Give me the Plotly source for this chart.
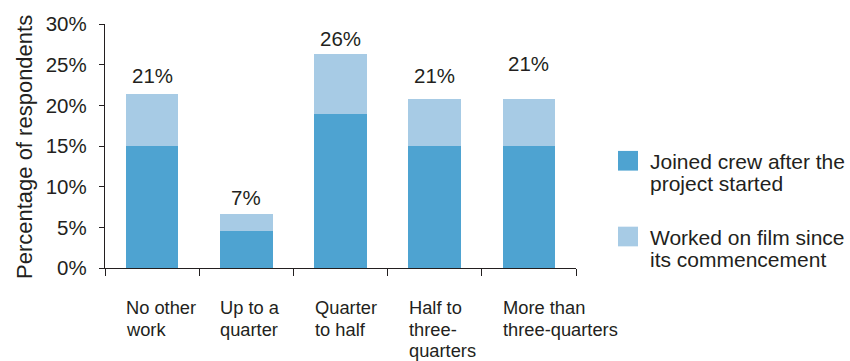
import plotly.graph_objects as go

# Data: share of respondents by how much other work they had during the film
categories = ["No other<br>work", "Up to a<br>quarter", "Quarter<br>to half",
              "Half to<br>three-<br>quarters", "More than<br>three-quarters"]
joined_after = [15.0, 4.5, 18.9, 15.0, 15.0]     # joined crew after the project started
since_start = [6.4, 2.1, 7.4, 5.8, 5.8]          # worked on film since its commencement
series_names = ["Joined crew after the<br>project started",
                "Worked on film since<br>its commencement"]
y_ticks = [0, 5, 10, 15, 20, 25, 30]

totals = [a + b for a, b in zip(joined_after, since_start)]
total_labels = [f"{round(t)}%" for t in totals]

# Styling
DARK = "#4ea3d1"
LIGHT = "#a7cbe5"
INK = "#231f20"
FONT = "Liberation Sans, Arial, sans-serif"
W, H = 850, 361
ML, MR, MT, MB = 105, 274, 20, 93
label_lift = [5, 3, 2, 10, 22]   # extra lift of the total labels above each bar

def px_x(px):
    return (px - ML) / (W - ML - MR)

def px_y(py):
    return (H - MB - py) / (H - MT - MB)

fig = go.Figure()
fig.add_trace(go.Bar(x=categories, y=joined_after, name=series_names[0],
                     marker=dict(color=DARK, line=dict(width=0))))
fig.add_trace(go.Bar(x=categories, y=since_start, name=series_names[1],
                     marker=dict(color=LIGHT, line=dict(width=0))))

annotations = []

# Totals above the stacks
for cat, tot, lab, lift in zip(categories, totals, total_labels, label_lift):
    annotations.append(dict(x=cat, y=tot, xref="x", yref="y", text=lab,
                            showarrow=False, xanchor="center", yanchor="bottom",
                            yshift=lift, font=dict(family=FONT, size=20.5, color=INK)))

# Category labels, left-aligned to the bar edge, one line at a time
CAT_LINE = 21.5
for cat in categories:
    for i, line in enumerate(cat.split("<br>")):
        annotations.append(dict(x=cat, y=0, xref="x", yref="y", text=line,
                                showarrow=False, xanchor="left", yanchor="top",
                                xshift=-28, yshift=-27 - i * CAT_LINE,
                                font=dict(family=FONT, size=18.3, color=INK)))

# Y axis title
annotations.append(dict(x=0, y=0.5, xref="paper", yref="paper",
                        text="Percentage of respondents", textangle=-90,
                        showarrow=False, xanchor="center", yanchor="middle",
                        xshift=-81, yshift=-1, font=dict(family=FONT, size=22, color=INK)))

# Legend drawn as swatches + text
shapes = []
LEG_LINE = 22.5
legend_rows = [(DARK, series_names[0], 149), (LIGHT, series_names[1], 226)]
for color, name, top in legend_rows:
    shapes.append(dict(type="rect", xref="paper", yref="paper",
                       x0=px_x(618), x1=px_x(638), y0=px_y(top + 20), y1=px_y(top),
                       fillcolor=color, line=dict(width=0)))
    for i, line in enumerate(name.split("<br>")):
        annotations.append(dict(x=px_x(648), y=px_y(top - 3 + i * LEG_LINE),
                                xref="paper", yref="paper", text=line,
                                showarrow=False, xanchor="left", yanchor="top",
                                font=dict(family=FONT, size=21, color=INK)))

fig.update_layout(
    barmode="stack",
    bargap=0.44,
    width=W, height=H,
    margin=dict(l=ML, r=MR, t=MT, b=MB, pad=0),
    paper_bgcolor="white", plot_bgcolor="white",
    showlegend=False,
    annotations=annotations,
    shapes=shapes,
    font=dict(family=FONT, color=INK),
)
fig.update_xaxes(
    type="category", range=[-0.5, 4.5],
    showline=True, linecolor=INK, linewidth=1.3,
    ticks="outside", tickson="boundaries", ticklen=7, tickwidth=1.3, tickcolor=INK,
    showticklabels=False, showgrid=False, zeroline=False,
)
fig.update_yaxes(
    range=[0, 30], tickvals=y_ticks, ticktext=[f"{v}%" for v in y_ticks],
    showline=True, linecolor=INK, linewidth=1.3,
    ticks="outside", ticklen=5, tickwidth=1.3, tickcolor=INK,
    ticklabelstandoff=8,
    tickfont=dict(family=FONT, size=20.5, color=INK),
    showgrid=False, zeroline=False,
)

fig.write_html("out.html")
